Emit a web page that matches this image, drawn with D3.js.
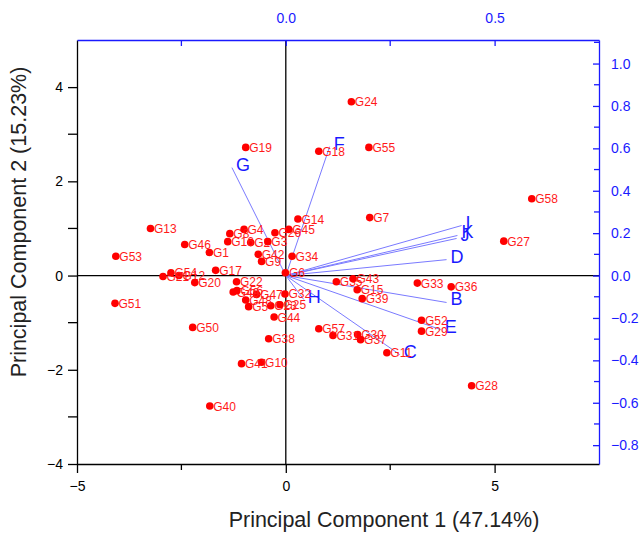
<!DOCTYPE html>
<html>
<head>
<meta charset="utf-8">
<script src="https://cdn.jsdelivr.net/npm/d3@7"></script>
<style>
  html, body { margin: 0; padding: 0; background: #fff; }
  svg { font-family: "Liberation Sans", Arial, sans-serif; display: block; }
</style>
</head>
<body>
<svg id="chart" width="643" height="533"></svg>
<script>
// genotype scores (PC1, PC2)
const genotypes = ["G1","G2","G3","G4","G5","G6","G7","G8","G9","G10",
  "G11","G12","G13","G14","G15","G16","G17","G18","G19","G20",
  "G21","G22","G23","G24","G25","G26","G27","G28","G29","G30",
  "G31","G32","G33","G34","G35","G36","G37","G38","G39","G40",
  "G41","G42","G43","G44","G45","G46","G47","G48","G49","G50",
  "G51","G52","G53","G54","G55","G56","G57","G58"];
const pc1 = [-1.83,-0.84,-0.43,-1.00,-0.89,-0.01,2.01,-1.34,-0.58,-0.58,
  2.42,-2.56,-3.24,0.29,1.71,-1.39,-1.68,0.79,-0.96,-2.18,
  -2.94,-1.18,-0.36,1.57,-0.14,-0.26,5.22,4.45,3.25,1.72,
  1.13,-0.02,3.15,0.15,1.21,3.96,1.79,-0.41,1.83,-1.82,
  -1.06,-0.66,1.61,-0.28,0.07,-2.42,-0.70,-0.96,-1.26,-2.23,
  -4.09,3.25,-4.07,-2.75,1.99,-1.17,0.79,5.89];
const pc2 = [0.49,0.70,0.72,0.98,-0.66,0.06,1.23,0.89,0.30,-1.84,
  -1.64,0.00,1.00,1.20,-0.30,0.72,0.11,2.64,2.72,-0.15,
  -0.02,-0.13,-0.64,3.69,-0.62,0.91,0.73,-2.34,-1.18,-1.25,
  -1.27,-0.39,-0.16,0.41,-0.13,-0.24,-1.36,-1.34,-0.49,-2.77,
  -1.87,0.45,-0.07,-0.88,0.98,0.66,-0.40,-0.52,-0.35,-1.10,
  -0.59,-0.95,0.41,0.06,2.72,-0.32,-1.13,1.63];

// trait loadings
const traits = ["B","C","D","E","F","G","H","I","J","K"];
const load1 = [0.385,0.273,0.385,0.371,0.105,-0.129,0.043,0.421,0.409,0.411];
const load2 = [-0.127,-0.373,0.075,-0.255,0.608,0.509,-0.113,0.236,0.175,0.189];

// ticks
const xTicks = [-5, 0, 5];
const xMinor = [-2.5, 2.5];
const yTicks = [-4, -2, 0, 2, 4];
const yMinor = [-3, -1, 1, 3];
const topTicks = [0, 0.5];
const topMinor = [-0.25, 0.25];
const rightTicks = [-0.8, -0.6, -0.4, -0.2, 0, 0.2, 0.4, 0.6, 0.8, 1.0];
const rightMinor = [-0.7, -0.5, -0.3, -0.1, 0.1, 0.3, 0.5, 0.7, 0.9, 1.1];

const pLeft = 77, pRight = 599, pTop = 40, pBottom = 464;
const blue = "#1a1aff";

const svg = d3.select("#chart");

const x = d3.scaleLinear().domain([-5, 7.5]).range([pLeft, pRight]);
const y = d3.scaleLinear().domain([-4, 5]).range([pBottom, pTop]);
const xl = d3.scaleLinear().domain([-0.5, 0.75]).range([pLeft, pRight]);
const yl = d3.scaleLinear().domain([-4 / 4.5, 5 / 4.5]).range([pBottom, pTop]);

// zero lines
svg.append("line")
  .attr("x1", pLeft).attr("x2", pRight)
  .attr("y1", y(0)).attr("y2", y(0))
  .attr("stroke", "#000").attr("stroke-width", 1.3);
svg.append("line")
  .attr("x1", x(0)).attr("x2", x(0))
  .attr("y1", pTop).attr("y2", pBottom)
  .attr("stroke", "#000").attr("stroke-width", 1.3);

// axes
function styleAxis(g, color) {
  g.selectAll("path, line").attr("stroke", color).attr("stroke-width", 1.3);
  g.selectAll("text").attr("fill", color).style("font-size", "14px")
    .style("font-family", "'Liberation Sans', Arial, sans-serif");
}

const gBottom = svg.append("g").attr("transform", `translate(0,${pBottom})`)
  .call(d3.axisBottom(x).tickValues(xTicks).tickSize(9).tickPadding(8).tickSizeOuter(0).tickFormat(d3.format("d")));
gBottom.selectAll(".minor").data(xMinor).enter().append("line")
  .attr("x1", d => x(d)).attr("x2", d => x(d)).attr("y1", 0).attr("y2", 6);
styleAxis(gBottom, "#000");

const gLeft = svg.append("g").attr("transform", `translate(${pLeft},0)`)
  .call(d3.axisLeft(y).tickValues(yTicks).tickSize(9).tickPadding(5).tickSizeOuter(0).tickFormat(d3.format("d")));
gLeft.selectAll(".minor").data(yMinor).enter().append("line")
  .attr("x1", 0).attr("x2", -9).attr("y1", d => y(d)).attr("y2", d => y(d));
styleAxis(gLeft, "#000");

const gTop = svg.append("g").attr("transform", `translate(0,${pTop})`)
  .call(d3.axisTop(xl).tickValues(topTicks).tickSize(-6).tickPadding(17).tickSizeOuter(0).tickFormat(d3.format(".1f")));
gTop.selectAll(".minor").data(topMinor).enter().append("line")
  .attr("x1", d => xl(d)).attr("x2", d => xl(d)).attr("y1", 0).attr("y2", 6);
styleAxis(gTop, blue);

const gRight = svg.append("g").attr("transform", `translate(${pRight},0)`)
  .call(d3.axisRight(yl).tickValues(rightTicks).tickSize(-6).tickPadding(12).tickSizeOuter(0).tickFormat(d3.format(".1f")));
gRight.selectAll(".minor").data(rightMinor).enter().append("line")
  .attr("x1", 0).attr("x2", -5).attr("y1", d => yl(d)).attr("y2", d => yl(d));
styleAxis(gRight, blue);

// loading vectors
const vec = svg.append("g").selectAll("g")
  .data(traits.map((t, i) => ({ t, a: load1[i], b: load2[i] })))
  .enter().append("g");
vec.append("line")
  .attr("x1", xl(0)).attr("y1", yl(0))
  .attr("x2", d => xl(d.a)).attr("y2", d => yl(d.b))
  .attr("stroke", "#7a7aff").attr("stroke-width", 1);
vec.append("text")
  .attr("x", d => xl(d.a) + 4).attr("y", d => yl(d.b) + 3)
  .attr("fill", blue).style("font-size", "18px")
  .text(d => d.t);

// genotype scores
const pts = svg.append("g").selectAll("g")
  .data(genotypes.map((g, i) => ({ g, a: pc1[i], b: pc2[i] })))
  .enter().append("g");
pts.append("circle")
  .attr("cx", d => x(d.a)).attr("cy", d => y(d.b)).attr("r", 3.8)
  .attr("fill", "#ff0000");
pts.append("text")
  .attr("x", d => x(d.a) + 3.5).attr("y", d => y(d.b) + 4.5)
  .attr("fill", "#ff1a1a").style("font-size", "12px")
  .text(d => d.g);

// titles
svg.append("text")
  .attr("x", 384).attr("y", 527)
  .attr("text-anchor", "middle").style("font-size", "21.5px").attr("fill", "#222")
  .text("Principal Component 1 (47.14%)");
svg.append("text")
  .attr("transform", "translate(26,222) rotate(-90)")
  .attr("text-anchor", "middle").style("font-size", "21.5px").attr("fill", "#222")
  .text("Principal Component 2 (15.23%)");
</script>
</body>
</html>
